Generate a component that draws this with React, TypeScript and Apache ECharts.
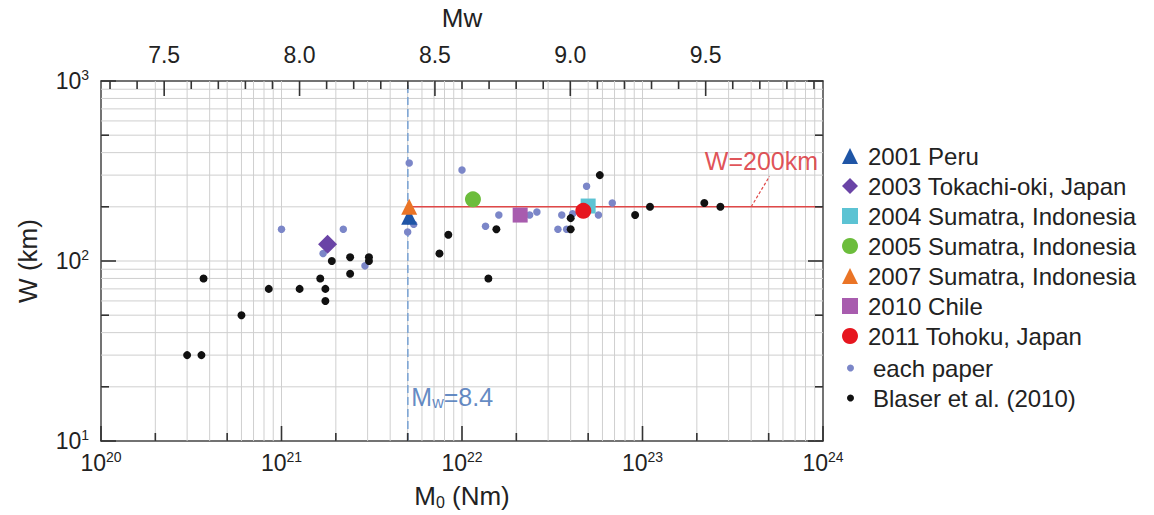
import React, { useEffect, useRef } from 'react';
import * as echarts from 'echarts';

// ---- data ----
// Blaser et al. (2010): seismic moment M0 (Nm) and rupture width W (km)
const blaserM0 = [3.0e20, 3.6e20, 3.7e20, 6.0e20, 8.5e20, 1.26e21, 1.64e21, 1.75e21, 1.75e21, 1.9e21, 2.4e21, 2.4e21, 3.05e21, 3.05e21, 7.5e21, 8.4e21, 1.4e22, 1.55e22, 4.0e22, 4.0e22, 5.8e22, 9.1e22, 1.1e23, 2.2e23, 2.7e23];
const blaserW = [30, 30, 80, 50, 70, 70, 80, 70, 60, 100, 105, 85, 105, 100, 110, 140, 80, 150, 173, 150, 300, 180, 200, 210, 200];
// each paper
const paperM0 = [1.0e21, 2.2e21, 1.7e21, 2.9e21, 5.1e21, 5.4e21, 5.0e21, 1.0e22, 1.6e22, 1.35e22, 2.37e22, 2.6e22, 3.57e22, 3.4e22, 3.8e22, 4.1e22, 4.9e22, 5.7e22, 6.8e22];
const paperW = [150, 150, 110, 94, 350, 160, 145, 320, 180, 156, 180, 187, 180, 150, 150, 183, 260, 180, 210];
// highlighted events
const eventNames = ['2001 Peru', '2003 Tokachi-oki, Japan', '2004 Sumatra, Indonesia', '2005 Sumatra, Indonesia', '2007 Sumatra, Indonesia', '2010 Chile', '2011 Tohoku, Japan'];
const eventM0 = [5.1e21, 1.8e21, 5.0e22, 1.15e22, 5.1e21, 2.1e22, 4.7e22];
const eventW = [176, 124, 202, 220, 200, 180, 190];
// reference lines
const mwRef = 8.4;
const wRef = 200;
// axes
const xDecades = [20, 21, 22, 23, 24];
const yDecades = [1, 2, 3];
const mwLabels = [7.5, 8.0, 8.5, 9.0, 9.5];

// ---- styles ----
const eventColors = ['#1f55a6', '#6a44a6', '#5cc3d3', '#6cbd3c', '#ea7426', '#a85cae', '#e6161f'];
const eventSymbols = ['triangle', 'diamond', 'rect', 'circle', 'triangle', 'rect', 'circle'];
const eventSizes = [16, 19, 15, 16, 16, 15, 16];
const FONT = "'Liberation Sans', Arial, Helvetica, sans-serif";

const mwToM0 = (mw: number) => Math.pow(10, 1.5 * mw + 9.1);
const m0ToMw = (m0: number) => (Math.log10(m0) - 9.1) / 1.5;

export default function App() {
  const ref = useRef<HTMLDivElement>(null);
  useEffect(() => {
    if (!ref.current) return;
    const chart = echarts.init(ref.current, null, { renderer: 'svg' });
    const xMin = Math.pow(10, xDecades[0]);
    const xMax = Math.pow(10, xDecades[xDecades.length - 1]);
    const yMin = Math.pow(10, yDecades[0]);
    const yMax = Math.pow(10, yDecades[yDecades.length - 1]);

    const gridX: number[] = [];
    xDecades.slice(0, -1).forEach((d) => {
      for (let k = 1; k <= 9; k++) if (!(d === xDecades[0] && k === 1)) gridX.push(k * Math.pow(10, d));
    });
    const gridY: number[] = [];
    yDecades.slice(0, -1).forEach((d) => {
      for (let k = 1; k <= 9; k++) if (!(d === yDecades[0] && k === 1)) gridY.push(k * Math.pow(10, d));
    });
    const ticksX: number[][] = [];
    xDecades.forEach((d) => {
      [1, 2, 5].forEach((k) => {
        const v = k * Math.pow(10, d);
        if (v <= xMax) ticksX.push([v, yMin, k === 1 ? 15 : 8]);
      });
    });
    const ticksY: number[][] = [];
    yDecades.forEach((d) => {
      [1, 2, 5].forEach((k) => {
        const v = k * Math.pow(10, d);
        if (v <= yMax) ticksY.push([xMin, v, k === 1 ? 15 : 8]);
      });
    });
    const ticksTop: number[][] = [];
    const mwLo = Math.ceil(m0ToMw(xMin) * 10);
    const mwHi = Math.floor(m0ToMw(xMax) * 10);
    for (let i = mwLo; i <= mwHi; i++) {
      ticksTop.push([mwToM0(i / 10), yMax, i % 5 === 0 ? 15 : 8]);
    }

    const x84 = mwToM0(mwRef);
    const gridColor = '#cfcfcf';
    const axisColor = '#444';
    const tickColor = '#333';

    const tickSeries = (name: string, data: number[][], draw: (api: any) => any[]) => ({
      type: 'custom', name, silent: true, z: 20, clip: false, xAxisIndex: 0, yAxisIndex: 0,
      dimensions: ['x', 'y', 'len'], encode: { x: 0, y: 1 },
      data,
      renderItem: (_p: any, api: any) => ({
        type: 'group',
        children: draw(api).map((s) => ({ type: 'line', shape: s, style: { stroke: tickColor, lineWidth: 1.6 } })),
      }),
    });

    const option: any = {
      animation: false,
      textStyle: { fontFamily: FONT },
      grid: { left: 101, right: 331, top: 79, bottom: 73, containLabel: false },
      xAxis: [
        {
          type: 'log', logBase: 10, min: xMin, max: xMax, position: 'bottom',
          axisLine: { show: true, lineStyle: { color: axisColor, width: 1.5 } },
          axisTick: { show: false }, splitLine: { show: false }, minorTick: { show: false },
          axisLabel: {
            margin: 9,
            formatter: (v: number) => `{b|10}{s|${Math.round(Math.log10(v))}}`,
            rich: {
              b: { fontSize: 23, color: '#222', fontFamily: FONT },
              s: { fontSize: 14, color: '#222', fontFamily: FONT, padding: [0, 0, 12, 0] },
            },
          },
          name: '{a|M}{s|0}{a| (Nm)}', nameLocation: 'middle', nameGap: 41,
          nameTextStyle: {
            rich: {
              a: { fontSize: 26, color: '#222', fontFamily: FONT },
              s: { fontSize: 16, color: '#222', fontFamily: FONT, padding: [12, 0, 0, 0] },
            },
          },
        },
        {
          type: 'value', min: m0ToMw(xMin), max: m0ToMw(xMax), position: 'top',
          axisLine: { show: true, lineStyle: { color: axisColor, width: 1.5 } },
          axisTick: { show: false }, splitLine: { show: false },
          axisLabel: {
            margin: 15, fontSize: 23, color: '#222', showMinLabel: false, showMaxLabel: false,
            formatter: (v: number) => {
              const hit = mwLabels.find((m) => Math.abs(m - v) < 1e-6);
              return hit !== undefined ? hit.toFixed(1) : '';
            },
          },
          name: 'Mw', nameLocation: 'middle', nameGap: 50,
          nameTextStyle: { fontSize: 26, color: '#222' },
        },
      ],
      yAxis: [
        {
          type: 'log', logBase: 10, min: yMin, max: yMax, position: 'left',
          axisLine: { show: true, lineStyle: { color: axisColor, width: 1.5 } },
          axisTick: { show: false }, splitLine: { show: false }, minorTick: { show: false },
          axisLabel: {
            margin: 12,
            formatter: (v: number) => `{b|10}{s|${Math.round(Math.log10(v))}}`,
            rich: {
              b: { fontSize: 23, color: '#222', fontFamily: FONT },
              s: { fontSize: 14, color: '#222', fontFamily: FONT, padding: [0, 0, 12, 0] },
            },
          },
          name: 'W (km)', nameLocation: 'middle', nameGap: 60, nameRotate: 90,
          nameTextStyle: { fontSize: 26, color: '#222' },
        },
        {
          type: 'log', logBase: 10, min: yMin, max: yMax, position: 'right',
          axisLine: { show: true, lineStyle: { color: axisColor, width: 1.5 } },
          axisTick: { show: false }, splitLine: { show: false }, axisLabel: { show: false },
        },
      ],
      legend: [
        {
          data: eventNames, orient: 'vertical', left: 837, top: 139, itemWidth: 16, itemHeight: 16,
          itemGap: 6, selectedMode: false,
          textStyle: { fontSize: 24, color: '#222', fontFamily: FONT, padding: [0, 0, 0, 5] },
        },
        {
          data: ['each paper', 'Blaser et al. (2010)'], orient: 'vertical', left: 842, top: 351,
          itemWidth: 7, itemHeight: 7, itemGap: 6, selectedMode: false,
          textStyle: { fontSize: 24, color: '#222', fontFamily: FONT, padding: [0, 0, 0, 14] },
        },
      ],
      series: [
        // minor grid lines
        {
          type: 'custom', name: 'gridX', silent: true, z: 1, xAxisIndex: 0, yAxisIndex: 0,
          data: gridX.map((v) => [v, yMin]), encode: { x: 0, y: 1 },
          renderItem: (_p: any, api: any) => {
            const v = api.value(0);
            const a = api.coord([v, yMax]);
            const b = api.coord([v, yMin]);
            return { type: 'line', shape: { x1: a[0], y1: a[1], x2: b[0], y2: b[1] }, style: { stroke: gridColor, lineWidth: 1 } };
          },
        },
        {
          type: 'custom', name: 'gridY', silent: true, z: 1, xAxisIndex: 0, yAxisIndex: 0,
          data: gridY.map((v) => [xMin, v]), encode: { x: 0, y: 1 },
          renderItem: (_p: any, api: any) => {
            const v = api.value(1);
            const a = api.coord([xMin, v]);
            const b = api.coord([xMax, v]);
            return { type: 'line', shape: { x1: a[0], y1: a[1], x2: b[0], y2: b[1] }, style: { stroke: gridColor, lineWidth: 1 } };
          },
        },
        // tick marks (bottom, top Mw, left + right)
        tickSeries('ticksX', ticksX, (api) => {
          const p = api.coord([api.value(0), yMin]);
          const len = api.value(2);
          return [{ x1: p[0], y1: p[1], x2: p[0], y2: p[1] - len }];
        }),
        tickSeries('ticksTop', ticksTop, (api) => {
          const p = api.coord([api.value(0), yMax]);
          const len = api.value(2);
          return [{ x1: p[0], y1: p[1], x2: p[0], y2: p[1] + len }];
        }),
        tickSeries('ticksY', ticksY, (api) => {
          const v = api.value(1);
          const l = api.coord([xMin, v]);
          const r = api.coord([xMax, v]);
          const len = api.value(2);
          return [
            { x1: l[0], y1: l[1], x2: l[0] + len, y2: l[1] },
            { x1: r[0], y1: r[1], x2: r[0] - len, y2: r[1] },
          ];
        }),
        // Mw = 8.4 dashed line
        {
          type: 'line', name: 'mwref', silent: true, z: 3, symbol: 'none',
          data: [[x84, yMin], [x84, yMax]],
          lineStyle: { color: '#78a2d4', width: 1.5, type: [8, 4] },
        },
        // W = 200 km line
        {
          type: 'line', name: 'wref', silent: true, z: 3, symbol: 'none',
          data: [[x84, wRef], [xMax, wRef]],
          lineStyle: { color: '#e04848', width: 1.5 },
        },
        // leader for the W=200km label
        {
          type: 'line', name: 'leader', silent: true, z: 3, symbol: 'none',
          data: [[4.0e23, wRef], [5.05e23, 295]],
          lineStyle: { color: '#e04848', width: 1.2, type: [3, 2] },
        },
        // labels
        {
          type: 'scatter', name: 'wlabel', silent: true, z: 4, symbolSize: 1,
          itemStyle: { color: 'rgba(0,0,0,0)' },
          data: [[4.56e23, 358]],
          label: { show: true, position: 'inside', formatter: 'W=200km', fontSize: 25, color: '#d8262c', fontFamily: FONT },
        },
        {
          type: 'scatter', name: 'mwlabel', silent: true, z: 4, symbolSize: 1,
          itemStyle: { color: 'rgba(0,0,0,0)' },
          data: [[x84, 17.6]],
          label: {
            show: true, position: 'right', distance: 3, formatter: '{a|M}{s|w}{a|=8.4}',
            rich: {
              a: { fontSize: 25, color: '#3c6cb4', fontFamily: FONT },
              s: { fontSize: 16, color: '#3c6cb4', fontFamily: FONT, padding: [12, 0, 0, 0] },
            },
          },
        },
        // data points
        {
          type: 'scatter', name: 'each paper', z: 7, symbol: 'circle', symbolSize: 7.5,
          itemStyle: { color: '#7b86c8', opacity: 1 },
          data: paperM0.map((m, i) => [m, paperW[i]]),
        },
        {
          type: 'scatter', name: 'Blaser et al. (2010)', z: 8, symbol: 'circle', symbolSize: 8,
          itemStyle: { color: '#111111', opacity: 1 },
          data: blaserM0.map((m, i) => [m, blaserW[i]]),
        },
        ...eventNames.map((n, i) => ({
          type: 'scatter', name: n, z: 9 + (i === 6 ? 3 : i === 2 ? 0 : 1),
          symbol: eventSymbols[i], symbolSize: eventSizes[i],
          itemStyle: { color: eventColors[i], opacity: 1 },
          data: [[eventM0[i], eventW[i]]],
        })),
      ],
    };
    chart.setOption(option);
    return () => chart.dispose();
  }, []);
  return <div ref={ref} style={{ position: 'fixed', left: 0, top: 0, width: 1154, height: 515, background: '#fff' }} />;
}
